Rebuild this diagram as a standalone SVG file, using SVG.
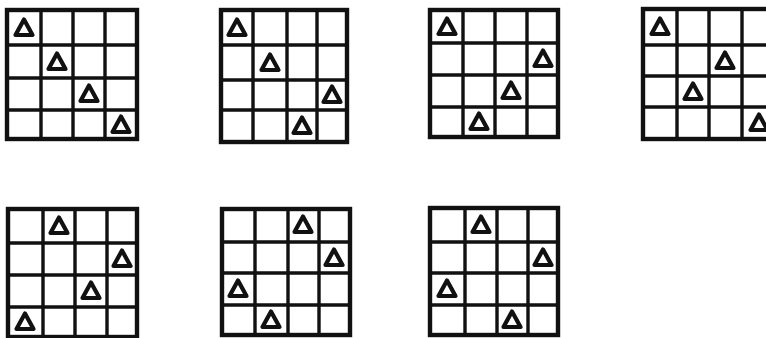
<svg xmlns="http://www.w3.org/2000/svg" width="766" height="338" viewBox="0 0 766 338">
<style>
.g{fill:none;stroke:#111;stroke-width:3.4}
.o{fill:none;stroke:#111;stroke-width:4.4}
.t{fill:none;stroke:#111;stroke-width:4.2;stroke-linejoin:round}
</style>
<defs>
<path id="tri" class="t" d="M0,-8.5 L8.5,7 L-8.5,7 Z"/>
</defs>
<rect width="766" height="338" fill="#fff"/>
<g id="grid1">
<rect class="o" x="7" y="10" width="130" height="129"/>
<path class="g" d="M41,10V139M73,10V139M105,10V139M7,45H137M7,78H137M7,110H137"/>
<use href="#tri" x="24" y="28"/><use href="#tri" x="57" y="62"/><use href="#tri" x="89" y="94"/><use href="#tri" x="121" y="125"/>
</g>
<g id="grid2">
<rect class="o" x="221" y="10" width="126" height="132"/>
<path class="g" d="M253,10V142M287,10V142M317,10V142M221,45H347M221,80H347M221,110H347"/>
<use href="#tri" x="237" y="28"/><use href="#tri" x="270" y="63"/><use href="#tri" x="332" y="95"/><use href="#tri" x="302" y="126"/>
</g>
<g id="grid3">
<rect class="o" x="430" y="10" width="128" height="127"/>
<path class="g" d="M463,10V137M495,10V137M527,10V137M430,43H558M430,75H558M430,107H558"/>
<use href="#tri" x="447" y="27"/><use href="#tri" x="543" y="59"/><use href="#tri" x="511" y="91"/><use href="#tri" x="479" y="122"/>
</g>
<g id="grid4">
<rect class="o" x="643" y="9" width="132" height="130"/>
<path class="g" d="M677,9V139M709,9V139M742,9V139M643,45H775M643,76H775M643,107H775"/>
<use href="#tri" x="660" y="27"/><use href="#tri" x="725" y="61"/><use href="#tri" x="693" y="92"/><use href="#tri" x="759" y="123"/>
</g>
<g id="grid5">
<rect class="o" x="8" y="209" width="129" height="128"/>
<path class="g" d="M43,209V337M75,209V337M107,209V337M8,243H137M8,275H137M8,307H137"/>
<use href="#tri" x="59" y="226"/><use href="#tri" x="122" y="259"/><use href="#tri" x="91" y="291"/><use href="#tri" x="25" y="322"/>
</g>
<g id="grid6">
<rect class="o" x="222" y="209" width="128" height="126"/>
<path class="g" d="M255,209V335M288,209V335M319,209V335M222,242H350M222,273H350M222,305H350"/>
<use href="#tri" x="303" y="225"/><use href="#tri" x="334" y="258"/><use href="#tri" x="238" y="289"/><use href="#tri" x="271" y="320"/>
</g>
<g id="grid7">
<rect class="o" x="430" y="208" width="128" height="127"/>
<path class="g" d="M465,208V335M497,208V335M528,208V335M430,242H558M430,273H558M430,305H558"/>
<use href="#tri" x="481" y="225"/><use href="#tri" x="543" y="258"/><use href="#tri" x="447" y="289"/><use href="#tri" x="512" y="320"/>
</g>
<g id="connectors"></g>
</svg>
